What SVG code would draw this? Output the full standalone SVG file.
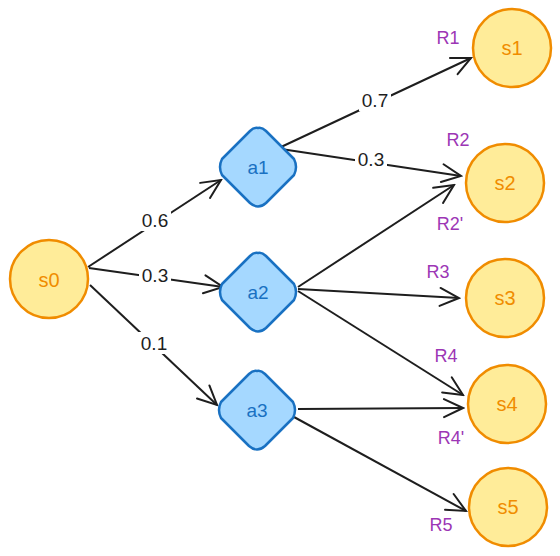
<svg xmlns="http://www.w3.org/2000/svg" width="560" height="556" viewBox="0 0 560 556">
  <defs>
    <style>
      .state circle { fill: #ffec99; stroke: #f08c00; stroke-width: 2.5; }
      .state text { fill: #f08c00; font-family: "Liberation Sans", sans-serif; font-size: 20px; text-anchor: middle; dominant-baseline: central; }
      .action path { fill: #a5d8ff; stroke: #1971c2; stroke-width: 2.5; stroke-linejoin: round; }
      .action text { fill: #1971c2; font-family: "Liberation Sans", sans-serif; font-size: 19px; text-anchor: middle; dominant-baseline: central; }
      .edges line { stroke: #1e1e1e; stroke-width: 2; marker-end: url(#open); }
      .gap { fill: #ffffff; }
      .prob { fill: #1e1e1e; font-family: "Liberation Sans", sans-serif; font-size: 19px; text-anchor: middle; dominant-baseline: central; }
      .reward { fill: #9c36b5; font-family: "Liberation Sans", sans-serif; font-size: 18px; text-anchor: middle; dominant-baseline: central; }
    </style>
    <marker id="open" viewBox="0 0 24 24" refX="22" refY="12" markerWidth="24" markerHeight="24" markerUnits="userSpaceOnUse" orient="auto">
      <path d="M3,3 L22,12 L3,21" fill="none" stroke="#1e1e1e" stroke-width="2" stroke-linecap="round"/>
    </marker>
  </defs>

  <!-- connectors -->
  <g id="edges" class="edges">
    <line x1="88" y1="267" x2="221" y2="180"/>
    <line x1="89" y1="268" x2="223" y2="287"/>
    <line x1="90" y1="285" x2="217" y2="405"/>
    <line x1="281" y1="147" x2="471" y2="58"/>
    <line x1="281" y1="149" x2="461" y2="176"/>
    <line x1="298" y1="287" x2="454" y2="185"/>
    <line x1="298" y1="289" x2="459" y2="298"/>
    <line x1="298" y1="291" x2="463" y2="395"/>
    <line x1="298" y1="409" x2="463" y2="408"/>
    <line x1="294" y1="417" x2="466" y2="511"/>
    <!-- label backgrounds break the lines under the probabilities -->
    <rect class="gap" x="139" y="209" width="32" height="22"/>
    <rect class="gap" x="139" y="264" width="32" height="22"/>
    <rect class="gap" x="138" y="332" width="32" height="22"/>
    <rect class="gap" x="359" y="89" width="32" height="22"/>
    <rect class="gap" x="355" y="148" width="32" height="22"/>
    <text class="prob" x="155" y="220">0.6</text>
    <text class="prob" x="155" y="275">0.3</text>
    <text class="prob" x="154" y="343">0.1</text>
    <text class="prob" x="375" y="100">0.7</text>
    <text class="prob" x="371" y="159">0.3</text>
  </g>

  <!-- states -->
  <g id="s0" class="state"><circle cx="49" cy="279" r="39"/><text x="49" y="280">s0</text></g>
  <g id="s1" class="state"><circle cx="512" cy="48" r="39"/><text x="512" y="48">s1</text></g>
  <g id="s2" class="state"><circle cx="505" cy="183" r="39"/><text x="505" y="183">s2</text></g>
  <g id="s3" class="state"><circle cx="505" cy="298" r="39"/><text x="505" y="298">s3</text></g>
  <g id="s4" class="state"><circle cx="507" cy="404" r="39"/><text x="507" y="404">s4</text></g>
  <g id="s5" class="state"><circle cx="508" cy="507" r="39"/><text x="508" y="507">s5</text></g>

  <!-- actions -->
  <g id="a1" class="action"><path d="M258,128 Q262,127 266,131 L294,159 Q298,167 294,175 L266,203 Q258,210 250,203 L222,175 Q218,167 222,159 L250,131 Q254,127 258,128 Z"/><text x="258" y="167">a1</text></g>
  <g id="a2" class="action"><path d="M258,253 Q262,252 266,256 L294,284 Q298,292 294,300 L266,328 Q258,335 250,328 L222,300 Q218,292 222,284 L250,256 Q254,252 258,253 Z"/><text x="258" y="292">a2</text></g>
  <g id="a3" class="action"><path d="M257,371 Q261,370 265,374 L293,402 Q297,410 293,418 L265,446 Q257,453 249,446 L221,418 Q217,410 221,402 L249,374 Q253,370 257,371 Z"/><text x="257" y="410">a3</text></g>

  <!-- rewards -->
  <g id="rewards">
    <text class="reward" x="448" y="38">R1</text>
    <text class="reward" x="458" y="140">R2</text>
    <text class="reward" x="450" y="224">R2'</text>
    <text class="reward" x="438" y="272">R3</text>
    <text class="reward" x="446" y="356">R4</text>
    <text class="reward" x="451" y="438">R4'</text>
    <text class="reward" x="441" y="525">R5</text>
  </g>
</svg>
